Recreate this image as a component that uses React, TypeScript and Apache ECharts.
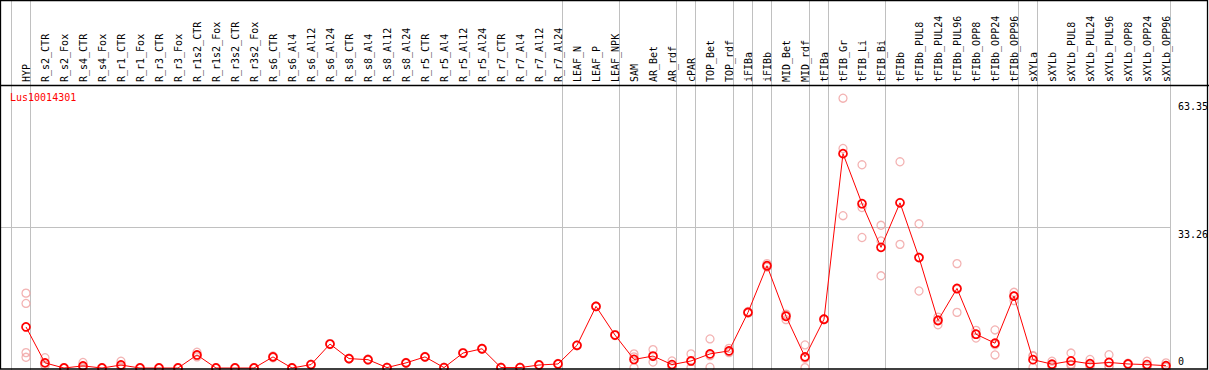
import React, { useEffect, useRef } from "react";
import * as echarts from "echarts";

const categories: string[] = [
  "HYP", "R_s2_CTR", "R_s2_Fox", "R_s4_CTR", "R_s4_Fox", "R_r1_CTR", "R_r1_Fox", "R_r3_CTR", "R_r3_Fox",
  "R_r1s2_CTR", "R_r1s2_Fox", "R_r3s2_CTR", "R_r3s2_Fox", "R_s6_CTR", "R_s6_Al4", "R_s6_Al12", "R_s6_Al24",
  "R_s8_CTR", "R_s8_Al4", "R_s8_Al12", "R_s8_Al24", "R_r5_CTR", "R_r5_Al4", "R_r5_Al12", "R_r5_Al24",
  "R_r7_CTR", "R_r7_Al4", "R_r7_Al12", "R_r7_Al24", "LEAF_N", "LEAF_P", "LEAF_NPK", "SAM", "AR_Bet", "AR_rdf",
  "cPAR", "TOP_Bet", "TOP_rdf", "iFIBa", "iFIBb", "MID_Bet", "MID_rdf", "tFIBa", "tFIB_Gr", "tFIB_Li", "tFIB_Bi",
  "tFIBb", "tFIBb_PUL8", "tFIBb_PUL24", "tFIBb_PUL96", "tFIBb_OPP8", "tFIBb_OPP24", "tFIBb_OPP96",
  "sXYLa", "sXYLb", "sXYLb_PUL8", "sXYLb_PUL24", "sXYLb_PUL96", "sXYLb_OPP8", "sXYLb_OPP24", "sXYLb_OPP96",
];

const meanValues: number[] = [
  9.9, 1.5, 0.3, 0.8, 0.3, 1.0, 0.3, 0.3, 0.3,
  3.35, 0.3, 0.3, 0.3, 2.9, 0.3, 1.1, 5.9,
  2.5, 2.25, 0.4, 1.5, 2.9, 0.4, 3.8, 4.8,
  0.4, 0.4, 1.0, 1.25, 5.6, 14.7, 8.0, 2.3, 3.1, 1.1,
  1.95, 3.6, 4.3, 13.3, 24.2, 12.4, 2.9, 11.7, 50.4, 38.7, 28.5,
  38.9, 26.1, 11.4, 18.9, 8.2, 6.1, 17.1,
  2.25, 1.2, 1.95, 1.3, 1.6, 1.25, 1.1, 0.85,
];

const replicateValues: number[][] = [
  [17.8, 15.4, 3.9, 2.8], [2.7, 1.0, 0.8], [0.4, 0.3, 0.2], [1.6, 0.5, 0.3], [0.4, 0.3, 0.2],
  [1.9, 0.6, 0.5], [0.4, 0.3, 0.2], [0.4, 0.3, 0.2], [0.4, 0.3, 0.2],
  [4.0, 3.2, 2.9], [0.4, 0.3, 0.2], [0.4, 0.3, 0.2], [0.4, 0.3, 0.2], [3.1, 2.9, 2.7], [0.4, 0.3, 0.2],
  [1.2, 1.1, 1.0], [6.0, 5.9, 5.8],
  [2.6, 2.5, 2.4], [2.4, 2.2, 2.15], [0.5, 0.4, 0.3], [1.6, 1.5, 1.4], [3.0, 2.9, 2.8], [0.5, 0.4, 0.3],
  [3.9, 3.8, 3.7], [4.9, 4.8, 4.7],
  [0.5, 0.4, 0.3], [0.5, 0.4, 0.3], [1.1, 1.0, 0.9], [1.35, 1.25, 1.15], [5.7, 5.6, 5.5], [14.8, 14.7, 14.6],
  [8.1, 8.0, 7.9], [2.9, 3.6, 0.4], [4.6, 3.0, 1.7], [1.95, 0.7, 0.65],
  [3.6, 1.85, 0.4], [7.1, 3.2, 0.5], [4.9, 4.1, 3.9], [13.5, 13.3, 13.1], [24.7, 24.0, 23.9],
  [12.9, 12.7, 11.6], [5.7, 2.6, 0.4], [11.8, 11.7, 11.6], [63.35, 51.6, 35.9], [47.8, 37.8, 30.8],
  [33.65, 30.0, 21.85],
  [48.5, 39.0, 29.2], [34.0, 26.2, 18.3], [12.2, 11.6, 10.4], [24.7, 18.7, 13.3], [9.1, 8.2, 7.3],
  [9.2, 5.75, 3.35], [18.0, 17.2, 16.05],
  [3.2, 3.1, 0.45], [1.9, 0.9, 0.8], [3.8, 1.2, 0.9], [2.3, 0.9, 0.7], [3.4, 0.8, 0.6], [1.4, 1.25, 1.1],
  [1.9, 0.8, 0.6], [1.5, 0.6, 0.45],
];

const yTickLabels: number[] = [0, 33.26, 63.35];
const groupEndIndices: number[] = [-1, 0, 28, 31, 34, 35, 37, 38, 39, 41, 42, 45, 52, 53, 60];
const title = "Lus10014301";

const FONT = '10px "DejaVu Sans Mono", monospace';

export default function App() {
  const ref = useRef<HTMLDivElement>(null);

  useEffect(() => {
    document.body.style.margin = "0";
    if (!ref.current) return;
    const chart = echarts.init(ref.current, undefined, { renderer: "svg" });

    const repData: [number, number][] = [];
    replicateValues.forEach((reps, i) => reps.forEach((v) => repData.push([i, v])));

    chart.setOption({
      animation: false,
      grid: { left: 16.5, right: 33.5, top: 85, bottom: 0 },
      xAxis: {
        type: "category",
        position: "top",
        data: categories,
        boundaryGap: true,
        axisLine: { show: false },
        axisTick: { show: false },
        splitLine: { show: false },
        axisLabel: {
          rotate: 90,
          interval: 0,
          margin: 3,
          color: "#000",
          fontFamily: '"DejaVu Sans Mono", monospace',
          fontSize: 10,
        },
      },
      yAxis: { type: "value", min: -0.163, max: 66.44, show: false },
      series: [
        {
          type: "scatter",
          data: repData,
          symbol: "circle",
          symbolSize: 8,
          itemStyle: { color: "rgba(0,0,0,0)", borderColor: "#f0a0a0", borderWidth: 1.3 },
          z: 2,
          silent: true,
        },
        {
          type: "line",
          data: meanValues,
          symbol: "circle",
          symbolSize: 8,
          showAllSymbol: true,
          lineStyle: { color: "#ff0000", width: 1 },
          itemStyle: { color: "rgba(0,0,0,0)", borderColor: "#ff0000", borderWidth: 1.7 },
          z: 3,
          clip: false,
          silent: true,
        },
      ],
    });

    const px = (i: number) => chart.convertToPixel({ xAxisIndex: 0 }, i) as number;
    const py = (v: number) => chart.convertToPixel({ yAxisIndex: 0 }, v) as number;
    const step = px(1) - px(0);
    const sepX = (i: number) => Math.round((i < 0 ? px(0) - step : px(i)) + 4) + 0.5;
    const lastSep = sepX(groupEndIndices[groupEndIndices.length - 1]);

    const graphics: any[] = [];
    groupEndIndices.forEach((i) => {
      const x = sepX(i);
      graphics.push({
        type: "line",
        shape: { x1: x, y1: 0, x2: x, y2: 370 },
        style: { stroke: "#c0c0c0", lineWidth: 1 },
        z: 0,
      });
    });
    const yGrid = Math.round(py(33.26)) + 0.5;
    graphics.push({
      type: "line",
      shape: { x1: 0, y1: yGrid, x2: lastSep, y2: yGrid },
      style: { stroke: "#c0c0c0", lineWidth: 1 },
      z: 0,
    });
    graphics.push({
      type: "line",
      shape: { x1: 0, y1: 85.5, x2: 1209, y2: 85.5 },
      style: { stroke: "#000", lineWidth: 1.3 },
      z: 5,
    });
    graphics.push({
      type: "rect",
      shape: { x: 0.5, y: 0.5, width: 1207, height: 368.5 },
      style: { fill: "none", stroke: "#000", lineWidth: 1.3 },
      z: 5,
    });
    graphics.push({
      type: "text",
      x: 10,
      y: 92,
      style: { text: title, fill: "#ff0000", font: FONT, verticalAlign: "top", align: "left" },
      z: 5,
    });
    yTickLabels.forEach((v) => {
      const y = py(v);
      graphics.push({
        type: "text",
        x: 1178,
        y: v === 0 ? y - 2.5 : y + 3,
        style: {
          text: String(v),
          fill: "#000",
          font: FONT,
          align: "left",
          verticalAlign: v === 0 ? "bottom" : "top",
        },
        z: 5,
      });
    });

    chart.setOption({ graphic: graphics });

    return () => chart.dispose();
  }, []);

  return <div ref={ref} style={{ width: 1209, height: 370 }} />;
}
